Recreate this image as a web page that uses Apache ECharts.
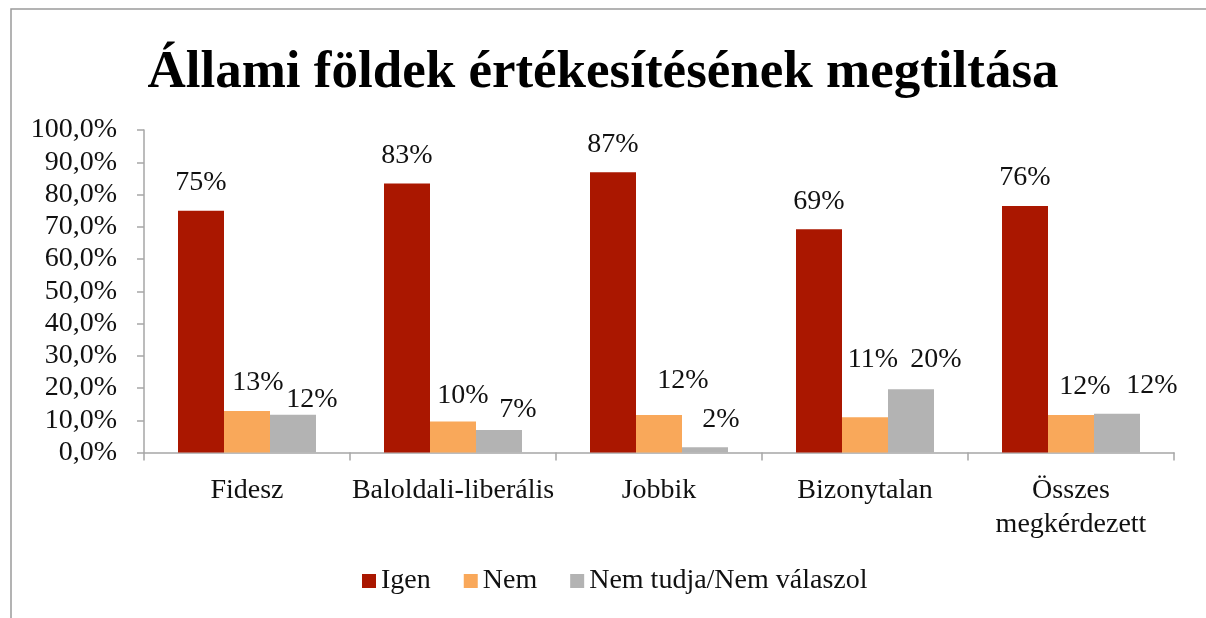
<!DOCTYPE html>
<html>
<head>
<meta charset="utf-8">
<script src="https://cdn.jsdelivr.net/npm/echarts@6/dist/echarts.min.js"></script>
<style>
html,body{margin:0;padding:0;background:#fff;}
#chart{width:1206px;height:618px;}
</style>
</head>
<body>
<div id="chart"></div>
<script>
const titleText = 'Állami földek értékesítésének megtiltása';
const categories = ['Fidesz', 'Baloldali-liberális', 'Jobbik', 'Bizonytalan', 'Összes\nmegkérdezett'];
const seriesNames = ['Igen', 'Nem', 'Nem tudja/Nem válaszol'];
const igen = [75.0, 83.4, 86.9, 69.2, 76.4];
const nem = [12.9, 9.6, 11.6, 10.9, 11.6];
const nemTudja = [11.7, 7.0, 1.6, 19.6, 12.0];
const yTicks = { min: 0, max: 100, interval: 10 };

// layout: manual nudges of individual data labels (as placed in the original)
const labelNudges = [
  [[0,0],[0,0],[0,0],[0,0],[0,0]],
  [[11,0],[10,2],[24,-6],[8,-30],[14,0]],
  [[19,13],[19,8],[16,0],[25,-2],[35,0]]
];
const colors = ['#AA1700', '#F9A85A', '#B3B3B3'];
const FONT = 'Liberation Serif';

const chart = echarts.init(document.getElementById('chart'), null, {renderer: 'canvas'});
const seriesData = [igen, nem, nemTudja];

const series = seriesData.map((arr, si) => ({
  name: seriesNames[si],
  type: 'bar',
  barWidth: 46,
  barGap: '0%',
  itemStyle: { color: colors[si] },
  label: {
    show: true,
    position: 'top',
    distance: 14,
    fontFamily: FONT,
    fontSize: 28,
    color: '#111',
    formatter: p => Math.round(p.value) + '%'
  },
  data: arr.map((v, i) => ({ value: v, label: { offset: labelNudges[si][i] } }))
}));

chart.setOption({
  animation: false,
  backgroundColor: '#fff',
  title: {
    text: titleText,
    left: 'center',
    top: 42,
    textStyle: { fontFamily: FONT, fontWeight: 'bold', fontSize: 53, color: '#000' }
  },
  graphic: [{
    type: 'rect',
    shape: { x: 11, y: 9, width: 1400, height: 800 },
    style: { fill: 'none', stroke: '#9a9a9a', lineWidth: 1.5 },
    silent: true
  }],
  legend: {
    bottom: 18,
    left: 357,
    itemWidth: 14,
    itemHeight: 14,
    itemGap: 33,
    icon: 'rect',
    textStyle: { fontFamily: FONT, fontSize: 28, color: '#111' },
    data: seriesNames
  },
  grid: { left: 144, right: 32, top: 130, bottom: 165.5 },
  xAxis: {
    type: 'category',
    data: categories,
    axisLine: { lineStyle: { color: '#a6a6a6', width: 1.5 } },
    axisTick: { show: true, interval: 0, length: 8, lineStyle: { color: '#a6a6a6', width: 1.5 } },
    axisLabel: { interval: 0, fontFamily: FONT, fontSize: 28, color: '#111', margin: 21, lineHeight: 34 }
  },
  yAxis: {
    type: 'value',
    min: yTicks.min,
    max: yTicks.max,
    interval: yTicks.interval,
    splitLine: { show: false },
    axisLine: { show: true, lineStyle: { color: '#a6a6a6', width: 1.5 } },
    axisTick: { show: true, length: 7, lineStyle: { color: '#a6a6a6', width: 1.5 } },
    axisLabel: {
      fontFamily: FONT, fontSize: 28, color: '#111', margin: 27,
      formatter: v => v.toFixed(1).replace('.', ',') + '%'
    }
  },
  series: series
});
</script>
</body>
</html>
